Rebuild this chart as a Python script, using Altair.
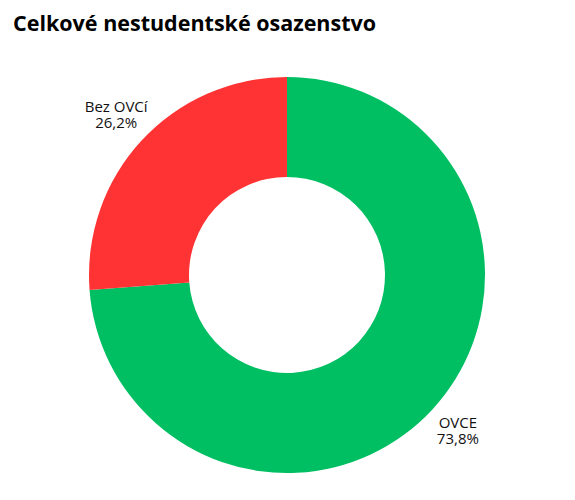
import altair as alt
import pandas as pd

categories = ["OVCE", "Bez OVCí"]
values = [73.8, 26.2]
colors = ["#00BF63", "#FF3333"]

df = pd.DataFrame({
    "kategorie": categories,
    "podil": values,
    "order": [0, 1],
})
df["label"] = df.apply(lambda r: f"{r['kategorie']}\n{str(r['podil']).replace('.', ',')}%", axis=1)

cx, cy = 274, 230

base = alt.Chart(df).encode(
    theta=alt.Theta("podil:Q", stack=True),
    order=alt.Order("order:Q"),
)

arcs = base.mark_arc(outerRadius=198, innerRadius=98).encode(
    color=alt.Color("kategorie:N", scale=alt.Scale(domain=categories, range=colors), legend=None),
    x=alt.value(cx),
    y=alt.value(cy),
)

labels = base.mark_text(radius=233, fontSize=15, font="Open Sans", lineBreak="\n",
                        lineHeight=16, dy=-10,
                        color="#111111", baseline="middle", align="center").encode(
    text="label:N",
    x=alt.value(cx),
    y=alt.value(cy),
)

chart = (arcs + labels).properties(
    width=548,
    height=450,
    title=alt.TitleParams(
        "Celkové nestudentské osazenstvo",
        anchor="start",
        fontSize=21.5,
        font="Open Sans",
        fontWeight="bold",
        color="#000000",
        offset=10,
    ),
).configure(background="white", view=alt.ViewConfig(stroke=None))

chart.save("out.html", embed_options={"renderer": "svg", "actions": False})
